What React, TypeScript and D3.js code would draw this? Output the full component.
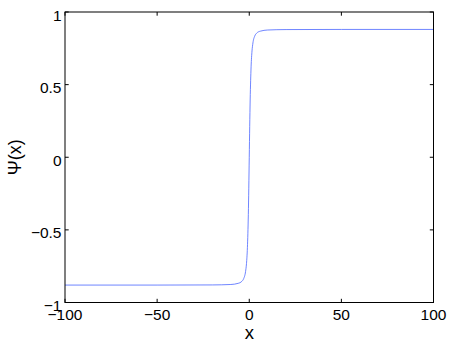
import React from "react";
import * as d3 from "d3";

const xs = [-100, -50, -20, -10, -6, -4, -3, -2, -1.5, -1, -0.5, -0.25, 0, 0.25, 0.5, 1, 1.5, 2, 3, 4, 6, 10, 20, 50, 100];
const ys = [-0.880, -0.880, -0.879, -0.876, -0.868, -0.854, -0.835, -0.787, -0.732, -0.622, -0.394, -0.213, 0, 0.213, 0.394, 0.622, 0.732, 0.787, 0.835, 0.854, 0.868, 0.876, 0.879, 0.880, 0.880];
const xTicks = [-100, -50, 0, 50, 100];
const yTicks = [-1, -0.5, 0, 0.5, 1];

const W = 450, H = 345;
const L = 65, R = 433.5, T = 12, B = 302.5;

function fmt(v: number) {
  return String(v).replace("-", "\u2212");
}

export default function App() {
  const x = d3.scaleLinear().domain([-100, 100]).range([L, R]);
  const y = d3.scaleLinear().domain([-1, 1]).range([B, T]);
  const pts = xs.map((v, i) => [v, ys[i]] as [number, number]);
  const line = d3.line<[number, number]>().x(d => x(d[0])).y(d => y(d[1])).curve(d3.curveMonotoneX);
  const font = "Liberation Sans, Arial, Helvetica, sans-serif";
  const tl = 3.7;
  return (
    <svg width={W} height={H} style={{ position: "absolute", left: 0, top: 0, background: "#fff" }}>
      <rect x={0} y={0} width={W} height={H} fill="#fff" />
      <path d={line(pts) || ""} fill="none" stroke="#3f5cff" strokeWidth={0.75} />
      <rect x={L} y={T} width={R - L} height={B - T} fill="none" stroke="#000" strokeWidth={1} />
      {xTicks.map(t => (
        <g key={"x" + t}>
          <line x1={x(t)} x2={x(t)} y1={B} y2={B - tl} stroke="#000" strokeWidth={1} />
          <line x1={x(t)} x2={x(t)} y1={T} y2={T + tl} stroke="#000" strokeWidth={1} />
          <text x={x(t)} y={320} textAnchor="middle" fontFamily={font} fontSize={15.5}>{fmt(t)}</text>
        </g>
      ))}
      {yTicks.map(t => (
        <g key={"y" + t}>
          <line x1={L} x2={L + tl} y1={y(t)} y2={y(t)} stroke="#000" strokeWidth={1} />
          <line x1={R} x2={R - tl} y1={y(t)} y2={y(t)} stroke="#000" strokeWidth={1} />
          <text x={61.5} y={y(t) + 8.5} textAnchor="end" fontFamily={font} fontSize={15.5}>{fmt(t)}</text>
        </g>
      ))}
      <text x={(L + R) / 2} y={338.5} textAnchor="middle" fontFamily={font} fontSize={18.5}>x</text>
      <text transform={`translate(21,${(T + B) / 2}) rotate(-90)`} textAnchor="middle" fontFamily={font} fontSize={18}>Ψ(x)</text>
    </svg>
  );
}
